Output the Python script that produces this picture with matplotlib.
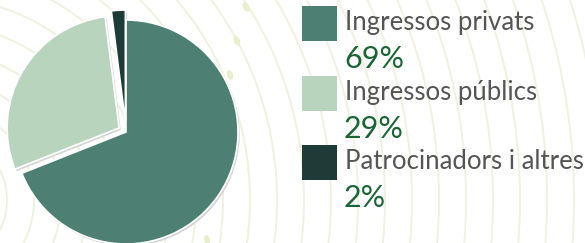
import matplotlib.pyplot as plt
from matplotlib.patches import Rectangle, Circle, Ellipse

labels = ["Ingressos privats", "Ingressos públics", "Patrocinadors i altres"]
shares = [69, 29, 2]
pct_labels = ["69%", "29%", "2%"]
colors = ["#4e7f73", "#b9d4bd", "#1f3b38"]

W, H = 585, 243
fig = plt.figure(figsize=(W / 100, H / 100), dpi=100)
ax = fig.add_axes([0, 0, 1, 1])

# faint decorative arcs in the background
for r in range(40, 760, 27):
    ax.add_patch(Circle((-60, 200), r, fill=False, ec="#eef2de", lw=1.4, zorder=0))
for x, y, ang in [(246, 7, 60), (237, 41, 70), (230, 75, 75), (207, 240, 80)]:
    ax.add_patch(Ellipse((x, y), 10, 6, angle=ang, fc="#e8efcf", ec="none", zorder=0))

# y axis runs downwards, so counterclock=True draws clockwise on screen
# explode is in data units (pixels here)
ax.pie(shares, colors=colors, startangle=-90, counterclock=True,
       center=(126, 132), radius=112, explode=[0, 8, 10],
       wedgeprops=dict(edgecolor="white", linewidth=1.2),
       shadow=dict(ox=1.2, oy=1.5, facecolor="#d4d6d4", edgecolor="none", alpha=1))

# legend
for i, (lab, pct, c) in enumerate(zip(labels, pct_labels, colors)):
    top = 6 + i * 69.5
    ax.add_patch(Rectangle((302, top), 35, 35, fc=c, ec="none"))
    ax.text(345, 30 + i * 69.5, lab, fontsize=18.5, family="Lato",
            color="#555555", va="baseline", ha="left")
    ax.text(344, 68 + i * 69.5, pct, fontsize=22, family="Lato",
            color="#1b6535", va="baseline", ha="left")

ax.set_xlim(0, W)
ax.set_ylim(H, 0)
ax.set_aspect("auto")
ax.axis("off")

fig.savefig("out.png", dpi=100, facecolor="white")
